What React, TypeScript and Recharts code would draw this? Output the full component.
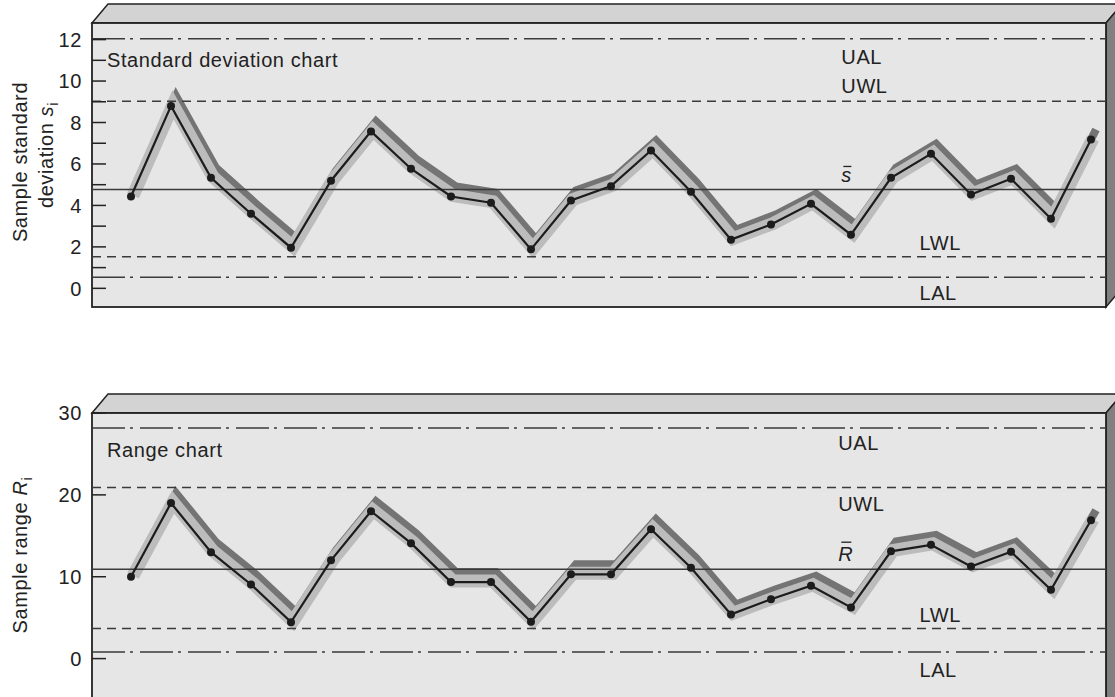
import React from 'react'
import { LineChart, Line, XAxis, YAxis, ReferenceLine, ReferenceArea } from 'recharts'

// sample numbers along the x axis
const samples = [1, 2, 3, 4, 5, 6, 7, 8, 9, 10, 11, 12, 13, 14, 15, 16, 17, 18, 19, 20, 21, 22, 23, 24, 25]

// sample standard deviation s_i
const sdValues = [4.43, 8.8, 5.33, 3.6, 1.96, 5.19, 7.57, 5.77, 4.43, 4.13, 1.88, 4.24, 4.93, 6.65, 4.66, 2.35, 3.08, 4.08, 2.59, 5.33, 6.49, 4.53, 5.29, 3.36, 7.18]

// sample range R_i
const rangeValues = [10.0, 19.0, 13.0, 9.05, 4.45, 12.0, 18.0, 14.1, 9.35, 9.35, 4.5, 10.3, 10.3, 15.8, 11.1, 5.4, 7.25, 8.9, 6.25, 13.1, 13.9, 11.25, 13.05, 8.4, 16.9]

// control limits, in order UAL, UWL, centre line, LWL, LAL
const limitNames = ['UAL', 'UWL', 'mean', 'LWL', 'LAL']
const sdLimits = [12.04, 9.02, 4.77, 1.52, 0.53]
const rangeLimits = [28.17, 20.9, 10.92, 3.67, 0.81]

const sdTicks = [0, 1, 2, 3, 4, 5, 6, 7, 8, 9, 10, 11, 12]
const sdTickLabels = [0, 2, 4, 6, 8, 10, 12]
const rangeTicks = [0, 10, 20, 30]
const rangeTickLabels = [0, 10, 20, 30]

// same value under three keys: dark ribbon top, light ribbon side, the line itself
const toRows = (values: number[]) =>
  samples.map((n, i) => ({ n, shade1: values[i], shade2: values[i], value: values[i] }))
const sdData = toRows(sdValues)
const rangeData = toRows(rangeValues)

const FONT = "'Liberation Sans', Arial, Helvetica, sans-serif"
const INK = '#222222'
const X_DOMAIN: [number, number] = [0.025, 25.375]
const DEPTH_X = 16
const DEPTH_Y = 19

const textStyle = { fontFamily: FONT, fontSize: 20, letterSpacing: 0.6, fill: INK }

const limitDash: Record<string, string | undefined> = {
  UAL: '33 5 3 7',
  UWL: '9 6',
  mean: undefined,
  LWL: '9 6',
  LAL: '33 5 3 7',
}

function Box(props: any) {
  const { x, y, width, height, title } = props
  const r = x + width
  return (
    <g>
      <polygon
        points={`${x},${y} ${x + DEPTH_X},${y - DEPTH_Y} ${r + DEPTH_X},${y - DEPTH_Y} ${r},${y}`}
        fill="#d3d3d3"
        stroke={INK}
        strokeWidth={1.5}
      />
      <polygon
        points={`${r},${y} ${r + DEPTH_X},${y - DEPTH_Y} ${r + DEPTH_X},${y + height - DEPTH_Y} ${r},${y + height}`}
        fill="#808080"
        stroke={INK}
        strokeWidth={1.5}
      />
      <rect x={x} y={y} width={width} height={height} fill="#e6e6e6" stroke={INK} strokeWidth={1.8} />
      <text x={x + 15} y={y + 44} style={textStyle}>
        {title}
      </text>
    </g>
  )
}

function AxisTick(props: any) {
  const { x, y, payload, labels } = props
  return (
    <g>
      <line x1={x + 10} x2={x + 24} y1={y} y2={y} stroke={INK} strokeWidth={1.5} />
      {labels.includes(payload.value) && (
        <text x={x} y={y} dy="0.36em" textAnchor="end" style={textStyle}>
          {payload.value}
        </text>
      )}
    </g>
  )
}

function limitLabel(name: string, symbol: string, xFrac: number, dy: number) {
  return (props: any) => {
    const vb = props.viewBox
    const tx = vb.x + vb.width * xFrac
    const ty = vb.y + dy
    if (name === 'mean') {
      const isR = symbol === 'R'
      return (
        <g>
          <text x={tx} y={ty} style={{ ...textStyle, fontStyle: 'italic' }}>
            {symbol}
          </text>
          <line
            x1={tx + (isR ? 3 : 2)}
            x2={tx + (isR ? 13 : 10)}
            y1={ty - (isR ? 19 : 16)}
            y2={ty - (isR ? 19 : 16)}
            stroke={INK}
            strokeWidth={1.3}
          />
        </g>
      )
    }
    return (
      <text x={tx} y={ty} style={textStyle}>
        {name}
      </text>
    )
  }
}

function SdAxisTitle(props: any) {
  const { x, y, height } = props.viewBox
  const cy = y + height / 2
  return (
    <g>
      <text x={x + 27} y={cy - 3} transform={`rotate(-90 ${x + 27} ${cy - 3})`} textAnchor="middle" style={textStyle}>
        Sample standard
      </text>
      <text x={x + 53} y={cy - 10} transform={`rotate(-90 ${x + 53} ${cy - 10})`} textAnchor="middle" style={textStyle}>
        deviation <tspan fontStyle="italic">s</tspan>
        <tspan dy={5} fontSize={15}>i</tspan>
      </text>
    </g>
  )
}

function RangeAxisTitle(props: any) {
  const { x, y, height } = props.viewBox
  const cy = y + height / 2 - 11.5
  return (
    <text x={x + 27} y={cy} transform={`rotate(-90 ${x + 27} ${cy})`} textAnchor="middle" style={textStyle}>
      Sample range <tspan fontStyle="italic">R</tspan>
      <tspan dy={5} fontSize={15}>i</tspan>
    </text>
  )
}

interface PanelProps {
  data: { n: number; shade1: number; shade2: number; value: number }[]
  limits: number[]
  yDomain: [number, number]
  ticks: number[]
  tickLabels: number[]
  title: string
  symbol: string
  labelPos: [number, number][]
  axisTitle: (p: any) => React.ReactElement
  height: number
  marginTop: number
  marginBottom: number
}

function ControlPanel(p: PanelProps) {
  return (
    <LineChart
      width={1115}
      height={p.height}
      data={p.data}
      margin={{ top: p.marginTop, right: 9, bottom: p.marginBottom, left: 0 }}
    >
      <ReferenceArea
        x1={X_DOMAIN[0]}
        x2={X_DOMAIN[1]}
        y1={p.yDomain[0]}
        y2={p.yDomain[1]}
        ifOverflow="visible"
        shape={(s: any) => <Box {...s} title={p.title} />}
      />
      <XAxis type="number" dataKey="n" domain={X_DOMAIN} allowDataOverflow hide />
      <YAxis
        type="number"
        domain={p.yDomain}
        allowDataOverflow
        ticks={p.ticks}
        interval={0}
        width={92}
        axisLine={false}
        tickLine={false}
        tickSize={0}
        tickMargin={10}
        tick={(t: any) => <AxisTick {...t} labels={p.tickLabels} />}
        label={p.axisTitle}
      />
      <Line
        type="linear"
        dataKey="shade1"
        className="rib-dark"
        stroke="#747474"
        strokeWidth={8}
        dot={false}
        activeDot={false}
        isAnimationActive={false}
      />
      <Line
        type="linear"
        dataKey="shade2"
        className="rib-light"
        stroke="#bcbcbc"
        strokeWidth={13}
        dot={false}
        activeDot={false}
        isAnimationActive={false}
      />
      {limitNames.map((name, i) => (
        <ReferenceLine
          key={name}
          y={p.limits[i]}
          stroke="#3a3a3a"
          strokeWidth={1.5}
          strokeDasharray={limitDash[name]}
          label={limitLabel(name, p.symbol, p.labelPos[i][0], p.labelPos[i][1])}
        />
      ))}
      <Line
        type="linear"
        dataKey="value"
        stroke="#1c1c1c"
        strokeWidth={2.2}
        dot={{ r: 4, fill: '#1c1c1c', stroke: '#1c1c1c', strokeWidth: 0 }}
        activeDot={false}
        isAnimationActive={false}
      />
    </LineChart>
  )
}

export default function App() {
  return (
    <div
      style={{
        position: 'fixed',
        left: 0,
        top: 0,
        width: 1115,
        height: 697,
        overflow: 'hidden',
        background: '#ffffff',
        fontFamily: FONT,
      }}
    >
      <style>{`
        .rib-dark { transform: translate(5px, -10px); }
        .rib-light { transform: translate(2px, -1px); }
      `}</style>
      <div style={{ position: 'absolute', left: 0, top: 0 }}>
        <ControlPanel
          data={sdData}
          limits={sdLimits}
          yDomain={[-0.9, 12.8]}
          ticks={sdTicks}
          tickLabels={sdTickLabels}
          title="Standard deviation chart"
          symbol="s"
          labelPos={[
            [0.739, 25],
            [0.739, -8],
            [0.739, -7],
            [0.816, -7],
            [0.816, 23],
          ]}
          axisTitle={SdAxisTitle}
          height={330}
          marginTop={23}
          marginBottom={23}
        />
      </div>
      <div style={{ position: 'absolute', left: 0, top: 380 }}>
        <ControlPanel
          data={rangeData}
          limits={rangeLimits}
          yDomain={[-7.5, 30]}
          ticks={rangeTicks}
          tickLabels={rangeTickLabels}
          title="Range chart"
          symbol="R"
          labelPos={[
            [0.736, 22],
            [0.736, 24],
            [0.736, -8],
            [0.816, -7],
            [0.816, 25],
          ]}
          axisTitle={RangeAxisTitle}
          height={340}
          marginTop={33}
          marginBottom={0}
        />
      </div>
    </div>
  )
}
